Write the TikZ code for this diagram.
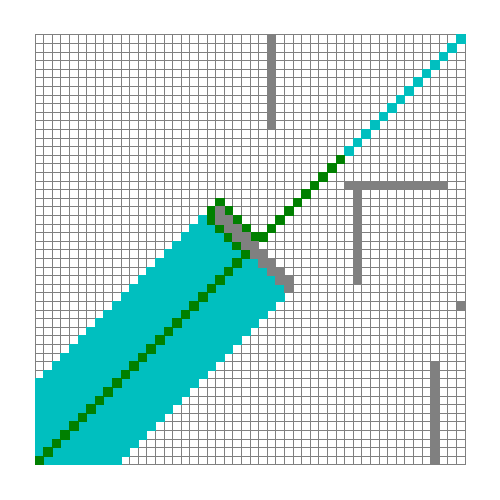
\documentclass[tikz,border=0pt]{standalone}
\definecolor{cyanc}{RGB}{0,191,191}
\definecolor{greenc}{RGB}{0,128,0}
\definecolor{wallc}{RGB}{128,128,128}
\definecolor{gridc}{RGB}{128,128,128}
\newcommand\cellfill[3]{\path[fill=#3,draw=#3,line width=1pt] ({35+8.6*(#2)},{465-8.6*((#1)+1)}) rectangle ({35+8.6*((#2)+1)},{465-8.6*(#1)});}
\begin{document}
\begin{tikzpicture}[x=1pt,y=1pt]
\useasboundingbox (0,0) rectangle (500,500);
\fill[white] (0,0) rectangle (500,500);
% grid
\foreach \i in {0,...,50}{
  \draw[gridc,line width=1pt] ({35+8.6*\i},35) -- ({35+8.6*\i},465);
  \draw[gridc,line width=1pt] (35,{35+8.6*\i}) -- (465,{35+8.6*\i});
}
% cyan explored band
\foreach \r in {21,...,49}{
  \pgfmathtruncatemacro\lo{max(0,40-\r)}
  \pgfmathtruncatemacro\hi{min(58-\r,\r-1)}
  \foreach \c in {\lo,...,\hi}{\cellfill{\r}{\c}{cyanc}}
}
% cyan diagonal top right
\foreach \r in {0,...,13}{\pgfmathtruncatemacro\c{49-\r}\cellfill{\r}{\c}{cyanc}}
% green path
\foreach \r in {25,...,49}{\pgfmathtruncatemacro\c{49-\r}\cellfill{\r}{\c}{greenc}}
\foreach \r/\c in {24/23,23/22,22/21,21/20,20/20,19/21,20/22,21/23,22/24,23/25,23/26}{\cellfill{\r}{\c}{greenc}}
\foreach \r in {14,...,22}{\pgfmathtruncatemacro\c{49-\r}\cellfill{\r}{\c}{greenc}}
% walls
\foreach \r in {0,...,10}{\cellfill{\r}{27}{wallc}}
\foreach \c in {36,...,47}{\cellfill{17}{\c}{wallc}}
\foreach \r in {18,...,28}{\cellfill{\r}{37}{wallc}}
\cellfill{31}{49}{wallc}
\foreach \r in {38,...,49}{\cellfill{\r}{46}{wallc}}
\foreach \r in {20,...,28}{\pgfmathtruncatemacro\c{\r+1}\cellfill{\r}{\c}{wallc}}
\foreach \r in {21,...,29}{\cellfill{\r}{\r}{wallc}}
\end{tikzpicture}
\end{document}
